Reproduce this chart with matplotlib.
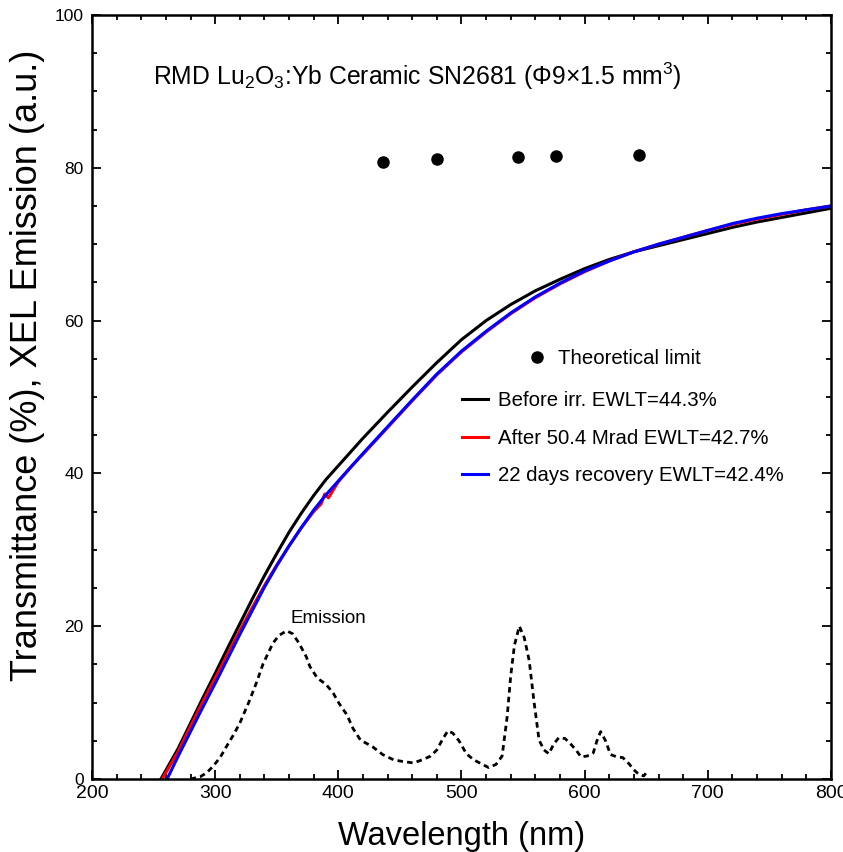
import matplotlib
matplotlib.use("Agg")
import matplotlib.pyplot as plt
from matplotlib.ticker import MultipleLocator

plt.rcParams["font.family"] = ["Liberation Sans", "DejaVu Sans"]
# pedici/apici nello stesso font del testo
plt.rcParams["mathtext.fontset"] = "custom"
plt.rcParams["mathtext.rm"] = "Liberation Sans"
plt.rcParams["mathtext.it"] = "Liberation Sans:italic"
plt.rcParams["mathtext.bf"] = "Liberation Sans:bold"

# --- dati ---
# trasmittanza prima dell'irraggiamento (nero)
wl_before = [256, 270, 280, 290, 300, 310, 320, 330, 340, 350, 360, 370, 380, 390, 400, 410, 420,
             440, 460, 480, 500, 520, 540, 560, 580, 600, 620, 640, 660, 680, 700, 720, 740, 760, 780, 800]
t_before = [0.0, 4.0, 7.3, 10.6, 13.8, 17.1, 20.3, 23.5, 26.6, 29.5, 32.3, 34.8, 37.1, 39.2, 41.0, 42.8, 44.6,
            48.0, 51.3, 54.5, 57.5, 60.0, 62.1, 63.9, 65.4, 66.8, 68.0, 69.0, 69.8, 70.6, 71.4, 72.2, 72.9,
            73.5, 74.1, 74.7]

# dopo 50.4 Mrad (rosso)
wl_after = [257, 270, 280, 290, 300, 310, 320, 330, 340, 350, 360, 370, 380, 386, 389, 392, 400, 410, 420,
            440, 460, 480, 500, 520, 540, 560, 580, 600, 620, 640, 660, 680, 700, 720, 740, 760, 780, 800]
t_after = [0.0, 3.6, 6.9, 10.1, 13.2, 16.3, 19.4, 22.4, 25.3, 28.0, 30.5, 32.9, 35.0, 36.0, 37.3, 36.8, 38.9,
           40.8, 42.5, 46.0, 49.5, 52.9, 55.9, 58.5, 60.9, 63.0, 64.8, 66.4, 67.8, 69.0, 70.0, 70.9, 71.8,
           72.6, 73.3, 73.9, 74.5, 75.0]

# dopo 22 giorni di recupero (blu)
wl_recov = [261, 270, 280, 290, 300, 310, 320, 330, 340, 350, 360, 370, 380, 390, 400, 410, 420,
            440, 460, 480, 500, 520, 540, 560, 580, 600, 620, 640, 660, 680, 700, 720, 740, 760, 780, 800]
t_recov = [0.0, 3.0, 6.2, 9.4, 12.5, 15.7, 18.9, 22.0, 25.1, 27.9, 30.5, 32.9, 35.2, 37.2, 39.0, 40.8, 42.6,
           46.1, 49.6, 53.0, 56.0, 58.6, 61.0, 63.1, 64.9, 66.5, 67.8, 69.0, 70.0, 70.9, 71.8, 72.7, 73.4,
           74.0, 74.5, 75.0]

# emissione XEL (tratteggiata)
wl_em = [280, 288, 293, 298, 304, 309, 315, 320, 328, 334, 339, 347, 352, 358, 363, 368, 374, 377,
         383, 390, 396, 401, 407, 412, 418, 428, 436, 445, 452, 461, 468, 475, 480, 485, 489, 493,
         498, 504, 510, 516, 522, 528, 533, 537, 540, 543, 547, 551, 555, 559, 563, 567, 571, 575,
         579, 584, 588, 593, 597, 602, 607, 610, 613, 617, 621, 626, 631, 636, 640, 644, 648, 650]
em = [0.0, 0.3, 0.8, 1.6, 2.8, 4.2, 5.8, 7.3, 10.3, 12.8, 15.1, 17.8, 18.8, 19.4, 19.0, 17.8, 16.0, 14.7,
      13.2, 12.4, 11.2, 9.8, 8.4, 6.6, 5.1, 4.2, 3.2, 2.5, 2.3, 2.1, 2.5, 3.0, 3.8, 5.3, 6.3, 6.0,
      5.0, 3.3, 2.5, 2.0, 1.5, 1.9, 3.0, 8.0, 13.5, 17.5, 20.0, 18.5, 15.5, 10.0, 5.1, 3.8, 3.3, 4.6,
      5.4, 5.3, 4.7, 3.8, 2.9, 3.0, 3.4, 5.0, 6.2, 5.0, 3.2, 2.9, 2.8, 2.0, 1.2, 0.6, 0.4, 0.8]

# limite teorico (punti)
wl_theory = [436, 480, 546, 577, 644]
t_theory = [80.8, 81.2, 81.4, 81.5, 81.7]

# --- figura ---
fig = plt.figure(figsize=(8.43, 8.52), dpi=100)
ax = fig.add_axes([0.1091, 0.0857, 0.8766, 0.8967])

dots, = ax.plot(wl_theory, t_theory, "o", color="black", markersize=8, label="Theoretical limit")
l1, = ax.plot(wl_before, t_before, color="black", lw=2.2, label="Before irr. EWLT=44.3%")
l2, = ax.plot(wl_after, t_after, color="red", lw=2.2, label="After 50.4 Mrad EWLT=42.7%")
l3, = ax.plot(wl_recov, t_recov, color="blue", lw=2.2, label="22 days recovery EWLT=42.4%")
ax.plot(wl_em, em, color="black", lw=2.0, ls=(0, (2.0, 1.5)))

ax.text(464, 92, "RMD Lu$_2$O$_3$:Yb Ceramic SN2681 (Φ9×1.5 mm$^3$)",
        ha="center", va="center", fontsize=17.8)
ax.text(361, 21, "Emission", ha="left", va="center", fontsize=13.5)

ax.set_xlim(200, 800)
ax.set_ylim(0, 100)
ax.xaxis.set_major_locator(MultipleLocator(100))
ax.xaxis.set_minor_locator(MultipleLocator(20))
ax.yaxis.set_major_locator(MultipleLocator(20))
ax.yaxis.set_minor_locator(MultipleLocator(5))
ax.tick_params(which="both", direction="in", top=True, right=True, width=1.3)
ax.tick_params(which="major", length=6.5)
ax.tick_params(which="minor", length=3.5)
ax.tick_params(axis="x", labelsize=14, pad=4)
ax.tick_params(axis="y", labelsize=12.5, pad=6)
for sp in ax.spines.values():
    sp.set_linewidth(1.8)

ax.set_xlabel("Wavelength (nm)", fontsize=23.5, labelpad=14)
ax.set_ylabel("Transmittance (%), XEL Emission (a.u.)", fontsize=26)
ax.yaxis.set_label_coords(-0.064, 0.542)

# legende senza cornice
leg1 = ax.legend(handles=[dots], loc="center left", bbox_to_anchor=(0.589, 0.55),
                 frameon=False, fontsize=14.7, handlelength=1.0, handletextpad=0.5,
                 borderaxespad=0, borderpad=0)
ax.add_artist(leg1)
ax.legend(handles=[l1, l2, l3], loc="center left", bbox_to_anchor=(0.501, 0.446),
          frameon=False, fontsize=14.7, handlelength=1.25, handletextpad=0.5,
          labelspacing=0.9, borderaxespad=0, borderpad=0)

fig.savefig("out.png", dpi=100)
